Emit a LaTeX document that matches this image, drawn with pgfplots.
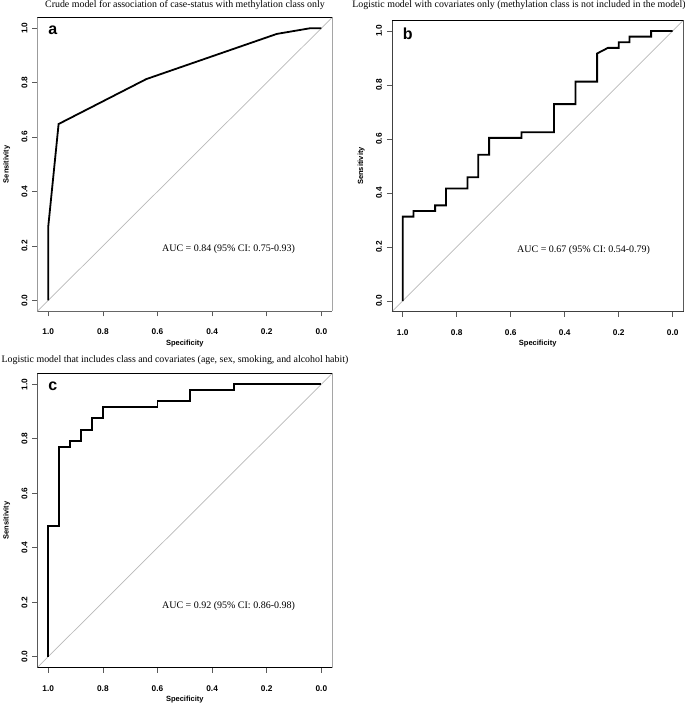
\documentclass[border=0pt]{standalone}
\usepackage{fontspec}
\setmainfont{Liberation Serif}
\newfontfamily\hel{Liberation Sans}
\usepackage{pgfplots}
\pgfplotsset{compat=1.18}
\pgfplotsset{
  rocaxis/.style={
    scale only axis,
    anchor=north west,
    xmin=-0.04, xmax=1.04, ymin=-0.04, ymax=1.04,
    x dir=reverse,
    xtick={0,0.2,0.4,0.6,0.8,1.0},
    ytick={0,0.2,0.4,0.6,0.8,1.0},
    tick align=outside,
    xtick pos=lower, ytick pos=lower,
    major tick length=5bp,
    every tick/.style={black!65, line width=0.7bp},
    axis line style={draw=none},
    /pgf/number format/assume math mode=true,
    xticklabel={\pgfmathprintnumber[fixed,fixed zerofill,precision=1]{\tick}},
    yticklabel={\pgfmathprintnumber[fixed,fixed zerofill,precision=1]{\tick}},
    ticklabel style={font=\hel\bfseries\fontsize{8.3bp}{9bp}\selectfont, inner sep=0pt},
    xticklabel style={anchor=center, yshift=-15.7bp},
    yticklabel style={xshift=-7.8bp, rotate=90, anchor=center},
    xlabel={Specificity}, ylabel={Sensitivity},
    every axis x label/.style={at={([yshift=-32bp]axis description cs:0.5,0)}, anchor=center, inner sep=0pt, font=\hel\bfseries\fontsize{7.5bp}{9bp}\selectfont},
    every axis y label/.style={at={([xshift=-30.6bp]axis description cs:0,0.5)}, rotate=90, anchor=center, inner sep=0pt, font=\hel\bfseries\fontsize{7.5bp}{9bp}\selectfont},
  },
  diag/.style={color=black!28, line width=0.7bp},
  roc/.style={color=black, line width=1.8bp},
}
\newcommand{\rocframe}[1]{%
  \draw[#1, line width=0.8bp] (rel axis cs:0,1) |- (rel axis cs:1,0);
  \draw[black, line width=0.8bp] (rel axis cs:0,1) -| (rel axis cs:1,0);}
\begin{document}
\begin{tikzpicture}
\useasboundingbox (0,0) rectangle (685bp,-704bp);
% ---------------- panel a
\begin{axis}[rocaxis, at={(37.3bp,-17.3bp)}, width=295bp, height=294bp]
\addplot[diag] coordinates {(1.04,-0.04) (-0.04,1.04)};
\addplot[roc] coordinates {(1,0) (1,0.27) (0.962,0.648) (0.641,0.813) (0.163,0.979) (0.04,1) (0,1)};
\node[font=\hel\bfseries\fontsize{16bp}{18bp}\selectfont, anchor=base west, inner sep=0pt] at (axis cs:1.0,0.975) {a};
\node[font=\fontsize{10bp}{12bp}\selectfont, anchor=center] at (axis cs:0.34,0.19) {AUC = 0.84 (95\% CI: 0.75-0.93)};
\rocframe{black!60}
\end{axis}
% ---------------- panel b
\begin{axis}[rocaxis, at={(391.9bp,-20.2bp)}, width=291.6bp, height=291.6bp]
\addplot[diag] coordinates {(1.04,-0.04) (-0.04,1.04)};
\addplot[roc] coordinates {(1,0) (1,0.3125) (0.96,0.3125) (0.96,0.3333) (0.88,0.3333) (0.88,0.3542) (0.84,0.3542) (0.84,0.4167) (0.76,0.4167) (0.76,0.4583) (0.72,0.4583) (0.72,0.5417) (0.68,0.5417) (0.68,0.6042) (0.56,0.6042) (0.56,0.625) (0.44,0.625) (0.44,0.7292) (0.36,0.7292) (0.36,0.8125) (0.28,0.8125) (0.28,0.9167) (0.24,0.9375) (0.20,0.9375) (0.20,0.9583) (0.16,0.9583) (0.16,0.9792) (0.08,0.9792) (0.08,1) (0,1)};
\node[font=\hel\bfseries\fontsize{16bp}{18bp}\selectfont, anchor=base west, inner sep=0pt] at (axis cs:1.0,0.967) {b};
\node[font=\fontsize{10bp}{12bp}\selectfont, anchor=center] at (axis cs:0.33,0.189) {AUC = 0.67 (95\% CI: 0.54-0.79)};
\rocframe{black!75}
\end{axis}
% ---------------- panel c
\begin{axis}[rocaxis, at={(37.3bp,-373.4bp)}, width=295bp, height=294.2bp]
\addplot[diag] coordinates {(1.04,-0.04) (-0.04,1.04)};
\addplot[roc] coordinates {(1,0) (1,0.4792) (0.96,0.4792) (0.96,0.7708) (0.92,0.7708) (0.92,0.7917) (0.88,0.7917) (0.88,0.8333) (0.84,0.8333) (0.84,0.875) (0.80,0.875) (0.80,0.9167) (0.60,0.9167) (0.60,0.9375) (0.48,0.9375) (0.48,0.9792) (0.32,0.9792) (0.32,1) (0,1)};
\node[font=\hel\bfseries\fontsize{16bp}{18bp}\selectfont, anchor=base west, inner sep=0pt] at (axis cs:1.0,0.976) {c};
\node[font=\fontsize{10bp}{12bp}\selectfont, anchor=center] at (axis cs:0.34,0.184) {AUC = 0.92 (95\% CI: 0.86-0.98)};
\rocframe{black}
\end{axis}
% ---------------- titles
\node[font=\fontsize{9.9bp}{12bp}\selectfont, anchor=center, inner sep=0pt] at (185bp,-5bp) {Crude model for association of case-status with methylation class only};
\node[font=\fontsize{9.9bp}{12bp}\selectfont, anchor=center, inner sep=0pt] at (519bp,-5bp) {Logistic model with covariates only (methylation class is not included in the model)};
\node[font=\fontsize{9.9bp}{12bp}\selectfont, anchor=center, inner sep=0pt] at (175bp,-360bp) {Logistic model that includes class and covariates (age, sex, smoking, and alcohol habit)};
\end{tikzpicture}
\end{document}
